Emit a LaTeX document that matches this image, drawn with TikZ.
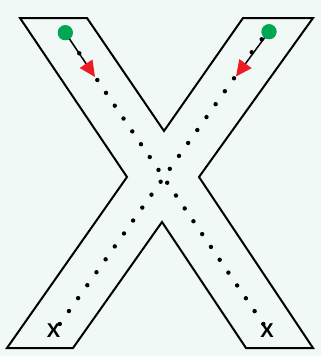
\documentclass[tikz,border=0pt]{standalone}
\usepackage{fontspec}
\setmainfont{Liberation Sans}
\usetikzlibrary{arrows.meta,calc}
\definecolor{bgc}{RGB}{241,249,246}
\definecolor{gdot}{RGB}{0,166,81}
\definecolor{rtip}{RGB}{237,28,36}
\begin{document}
\begin{tikzpicture}[x=1pt,y=-1pt,
  outline/.style={draw=black,line width=2pt,line join=miter},
  startdot/.style={circle,fill=gdot,inner sep=0pt,minimum size=15pt},
  pathdot/.style={fill=black},
  endmark/.style={font=\fontsize{20}{20}\selectfont\bfseries,inner sep=0pt},
  guide/.style={draw=black,line width=1.5pt,-{Triangle[length=16pt,width=15pt,color=rtip,fill=rtip]}}]
\fill[bgc] (0,0) rectangle (321,356);
\useasboundingbox (0,0) rectangle (321,356);
% X outline
\draw[outline] (20,18) -- (87,18) -- (164,131) -- (243,18) -- (313,18) -- (199,177)
  -- (313,348) -- (246,348) -- (162,222) -- (73,348) -- (7,348) -- (127,177) -- cycle;
% end marks
\node[endmark] (xl) at (53.5,331) {X};
\node[endmark] (xr) at (267,331) {X};
% dotted paths
\foreach \i in {0,...,19}{
  \fill[pathdot] ({97.3+8.74*\i},{80+12.84*\i}) circle (2.2);
  \fill[pathdot] ({234-9.17*\i},{78.3+12.93*\i}) circle (2.2);
}
% start dots
\node[startdot] (gl) at (65.3,32.7) {};
\node[startdot] (gr) at (269,31.7) {};
\coordinate (tl) at (95,77);
\coordinate (tr) at (236,76.5);
\draw[guide] (gl.center) -- (tl);
\draw[guide] (gr.center) -- (tr);
\node[startdot] at (gl) {};
\node[startdot] at (gr) {};
\fill[pathdot] (79.3,53.3) circle (2.2);
\fill[pathdot] (261.7,39.3) circle (2.2);
\fill[pathdot] (251.7,52.3) circle (2.2);
\end{tikzpicture}
\end{document}
